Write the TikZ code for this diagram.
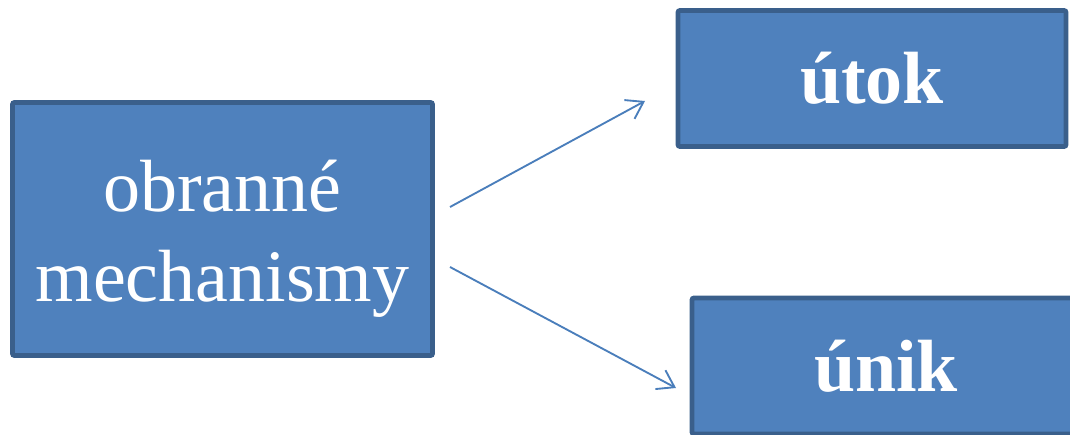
\documentclass[tikz,border=0pt]{standalone}
\usepackage{fontspec}
\setmainfont{Liberation Serif}
\usetikzlibrary{arrows.meta}

\definecolor{boxfill}{HTML}{4F81BD}
\definecolor{boxline}{HTML}{3A5F8B}
\definecolor{arrline}{HTML}{4A7EBB}

\begin{document}
\begin{tikzpicture}[x=0.75pt, y=-0.75pt,
    main/.style = {draw=boxline, fill=boxfill, line width=3.6pt, rounded corners=1.5pt,
        text=white, inner sep=0pt, font=\fontsize{55.5}{67.5}\selectfont},
    conn/.style = {draw=arrline, line width=1.4pt,
        -{Straight Barb[length=12pt, width=16pt, line width=1.4pt]}}]
    \useasboundingbox (0,0) rectangle (1070,435);

        \node[main, minimum width=420*0.75pt, minimum height=253*0.75pt] (obr) at (222.5,229)
            {\raisebox{13.5pt}[60pt][60pt]{\begin{tabular}[t]{@{}c@{}}obranné\\mechanismy\end{tabular}}};
        \node[main, minimum width=388*0.75pt, minimum height=136*0.75pt] (utok) at (872,78.5) {\bfseries útok};
        \node[main, minimum width=388*0.75pt, minimum height=136*0.75pt] (unik) at (886,366) {\bfseries únik};

        \coordinate (o1) at (450,207);
        \coordinate (o2) at (450,267);
        \coordinate (t1) at (645,101);
        \coordinate (t2) at (676,388);

        \path[conn] (o1) -- (t1);
        \path[conn] (o2) -- (t2);

    \end{tikzpicture}
\end{document}
